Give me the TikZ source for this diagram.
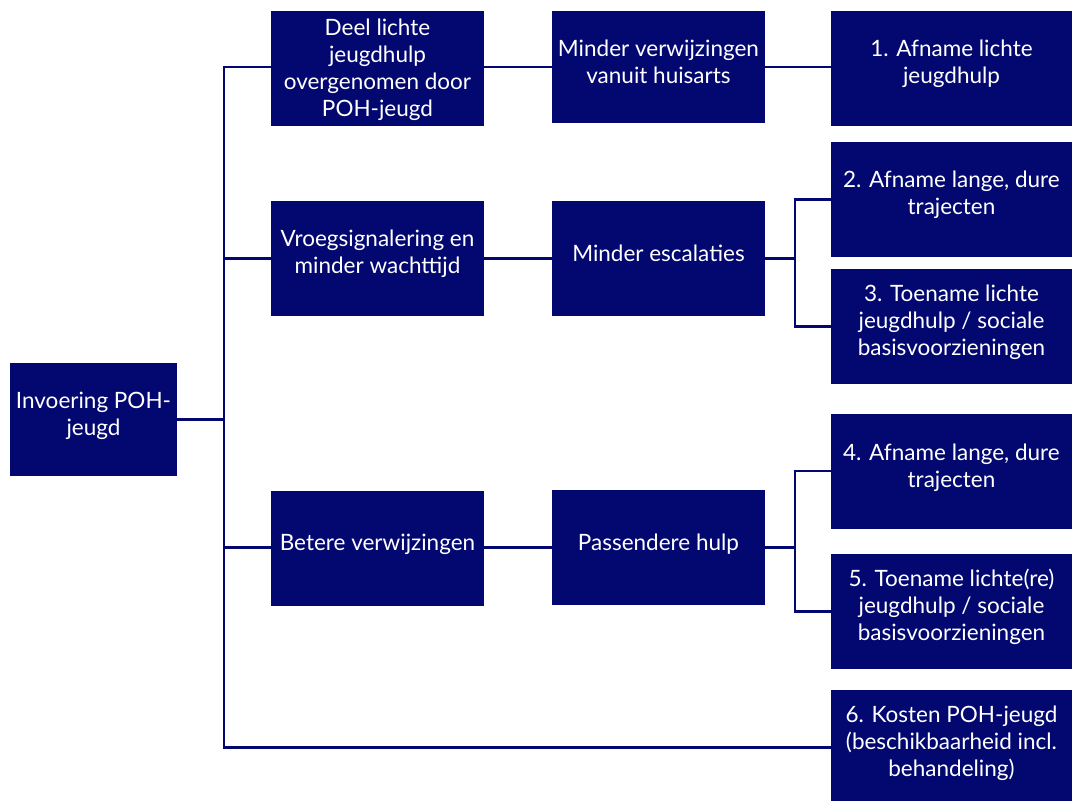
\documentclass[tikz,border=0pt]{standalone}
\usepackage{fontspec}
\setmainfont{Lato}
\definecolor{navy}{RGB}{2,8,112}
\begin{document}
\begin{tikzpicture}[x=1pt,y=-1pt,
  box/.style={draw=none,fill=navy,inner sep=0pt},
  txt/.style={text=white,inner sep=0pt,align=center,
    font=\fontsize{22.5}{27}\selectfont},
  mid/.style={box,minimum width=213pt,minimum height=115pt},
  outb/.style={box,minimum width=241pt,minimum height=115pt},
  conn/.style={draw=navy,line width=2.4pt}]
\useasboundingbox[fill=white] (0,0) rectangle (1072,801);
\newcommand\bx[5]{\node[#1] (#2) at #3 {};
  \node[txt] (#2t) at ([yshift=#4pt]#2.center) {#5};}
\begin{scope}
\clip (0,0) rectangle (1072,801);
\bx{box,minimum width=167pt,minimum height=113pt}{root}{(93.5,419.5)}{3.5}{Invoering POH-\\jeugd}
\bx{mid}{A}{(377.5,68.5)}{-1.5}{Deel lichte\\jeugdhulp\\overgenomen door\\POH-jeugd}
\bx{mid}{B}{(377.5,258.5)}{5}{Vroegsignalering en\\minder wachttijd}
\bx{mid}{C}{(377.5,548)}{4}{Betere verwijzingen}
\bx{mid,minimum height=112pt}{D}{(658.5,67)}{5}{Minder verwijzingen\\vanuit huisarts}
\bx{mid}{E}{(658.5,258.5)}{5}{Minder escalaties}
\bx{mid}{F}{(658.5,547.5)}{3.5}{Passendere hulp}
\bx{outb}{O1}{(951.5,68.5)}{5}{1. Afname lichte\\jeugdhulp}
\bx{outb}{O2}{(951.5,199.5)}{4.5}{2. Afname lange, dure\\trajecten}
\bx{outb}{O3}{(951.5,326.5)}{4.5}{3. Toename lichte\\jeugdhulp / sociale\\basisvoorzieningen}
\bx{outb}{O4}{(951.5,471)}{3.5}{4. Afname lange, dure\\trajecten}
\bx{outb}{O5}{(951.5,611.5)}{4.5}{5. Toename lichte(re)\\jeugdhulp / sociale\\basisvoorzieningen}
\bx{outb}{O6}{(951.5,747.5)}{4.5}{6. Kosten POH-jeugd\\(beschikbaarheid incl.\\behandeling)}
\end{scope}
\coordinate (tk) at (224,400);
\coordinate (bE) at (795,258);
\coordinate (bF) at (795,546);
\draw[conn] (D.west -| A.west) -| (tk) |- (O6.west);
\draw[conn] (B.west) -- (B.west -| tk);
\draw[conn] (F.west -| C.west) -- (F.west -| tk);
\draw[conn] (root.east) -- (root.east -| tk);
\draw[conn] (D.west -| A.east) -- (D.west);
\draw[conn] (B.east) -- (E.west);
\draw[conn] (F.west -| C.east) -- (F.west);
\draw[conn] (D.east) -- (O1.west |- D.east);
\draw[conn] (E.east) -- (E.east -| bE);
\draw[conn] (O2.west) -- (O2.west -| bE) -- (O3.west -| bE) -- (O3.west);
\draw[conn] (F.east) -- (F.east -| bF);
\draw[conn] (O4.west) -- (O4.west -| bF) -- (O5.west -| bF) -- (O5.west);
\end{tikzpicture}
\end{document}
